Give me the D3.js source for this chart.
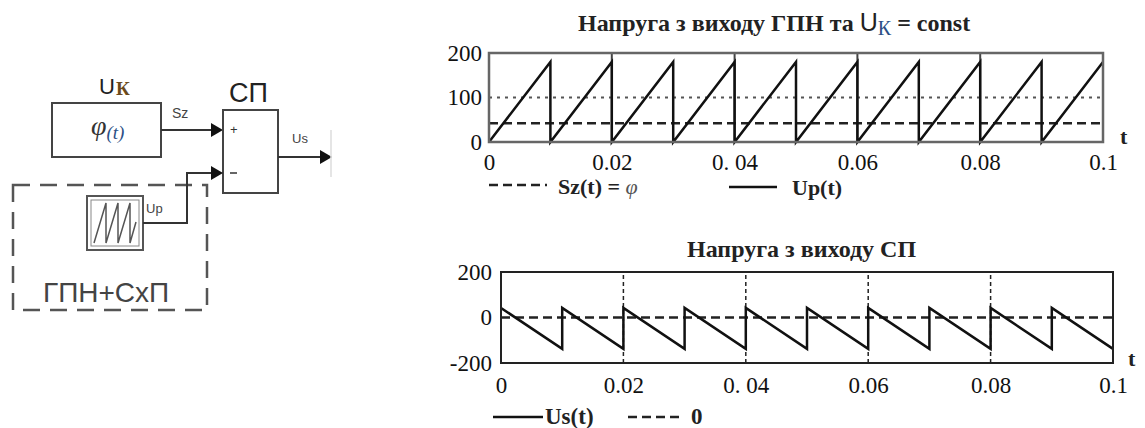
<!DOCTYPE html>
<html>
<head>
<meta charset="utf-8">
<script src="https://cdn.jsdelivr.net/npm/d3@7/dist/d3.min.js"></script>
<style>
  body { margin: 0; background: #fff; }
  svg { display: block; }
</style>
</head>
<body>
<svg id="chart" width="1145" height="428"></svg>
<script>
// --- data ---
const tTicks = [0, 0.02, 0.04, 0.06, 0.08, 0.1];
const tTickLabels = ["0", "0.02", "0. 04", "0.06", "0.08", "0.1"];
const gridT = [0.02, 0.04, 0.06, 0.08];
const topYTicks = [0, 100, 200];
const botYTicks = [-200, 0, 200];
const topDotted = 100;

// ramp generator output Up(t) (vertices)
const upT = [0, 0.01, 0.01, 0.02, 0.02, 0.03, 0.03, 0.04, 0.04, 0.05, 0.05, 0.06, 0.06, 0.07, 0.07, 0.08, 0.08, 0.09, 0.09, 0.1];
const upV = [0, 180, 0, 180, 0, 180, 0, 180, 0, 180, 0, 180, 0, 180, 0, 180, 0, 180, 0, 180];
// reference Sz(t) = phi
const szT = [0, 0.1];
const szV = [42, 42];
// comparator output Us(t) (vertices)
const usT = [0, 0.01, 0.01, 0.02, 0.02, 0.03, 0.03, 0.04, 0.04, 0.05, 0.05, 0.06, 0.06, 0.07, 0.07, 0.08, 0.08, 0.09, 0.09, 0.1];
const usV = [42, -138, 42, -138, 42, -138, 42, -138, 42, -138, 42, -138, 42, -138, 42, -138, 42, -138, 42, -138];
const zeroT = [0, 0.1];
const zeroV = [0, 0];

const SERIF = "Liberation Serif";
const SANS = "Liberation Sans";

const svg = d3.select("#chart");
const zip = (a, b) => a.map((d, i) => [d, b[i]]);

// ---------- top chart ----------
const xTop = d3.scaleLinear().domain([0, 0.1]).range([489, 1103]);
const yTop = d3.scaleLinear().domain([0, 200]).range([142, 53]);
const gTop = svg.append("g");

gTop.append("g").selectAll("line").data(gridT).join("line")
  .attr("x1", d => xTop(d)).attr("x2", d => xTop(d))
  .attr("y1", yTop(0)).attr("y2", yTop(200))
  .attr("stroke", "#444").attr("stroke-width", 2);

gTop.append("line")
  .attr("x1", xTop(0)).attr("x2", xTop(0.1))
  .attr("y1", yTop(topDotted)).attr("y2", yTop(topDotted))
  .attr("stroke", "#555").attr("stroke-width", 2).attr("stroke-dasharray", "3,5");

const lineTop = d3.line().x(d => xTop(d[0])).y(d => yTop(d[1]));
gTop.append("path").datum(zip(szT, szV)).attr("d", lineTop)
  .attr("fill", "none").attr("stroke", "#222").attr("stroke-width", 2.5).attr("stroke-dasharray", "9,5");
gTop.append("path").datum(zip(upT, upV)).attr("d", lineTop)
  .attr("fill", "none").attr("stroke", "#111").attr("stroke-width", 2.5);

gTop.append("rect")
  .attr("x", xTop(0)).attr("y", yTop(200))
  .attr("width", xTop(0.1) - xTop(0)).attr("height", yTop(0) - yTop(200))
  .attr("fill", "none").attr("stroke", "#666").attr("stroke-width", 2.5);

gTop.append("g").attr("transform", `translate(0,${yTop(0) + 25})`)
  .call(d3.axisBottom(xTop).tickValues(tTicks).tickSize(0).tickFormat((d, i) => tTickLabels[i]))
  .attr("font-family", SERIF).attr("font-size", 23)
  .call(g => g.select(".domain").remove())
  .selectAll("text").attr("fill", "#111").attr("dy", 0);

gTop.append("g").attr("transform", `translate(${xTop(0) - 4},0)`)
  .call(d3.axisLeft(yTop).tickValues(topYTicks).tickSize(0))
  .attr("font-family", SERIF).attr("font-size", 23)
  .call(g => g.select(".domain").remove())
  .selectAll("text").attr("fill", "#111");

svg.append("text").attr("font-family", SERIF).attr("x", 1120).attr("y", 144)
  .attr("font-size", 22).attr("font-weight", "bold").attr("fill", "#222").text("t");

const tt = svg.append("text").attr("x", 578).attr("y", 31).attr("fill", "#222").attr("font-family", SERIF);
tt.append("tspan").attr("font-size", 24).attr("font-weight", "bold").text("Напруга з виходу ГПН та ");
tt.append("tspan").attr("font-family", SANS).attr("font-size", 25).text("U");
tt.append("tspan").attr("font-size", 20).attr("dy", 4).attr("fill", "#2c4f86").text("К");
tt.append("tspan").attr("font-size", 24).attr("font-weight", "bold").attr("dy", -4).text(" = const");

// legend top
svg.append("line").attr("x1", 489).attr("x2", 547).attr("y1", 185).attr("y2", 185)
  .attr("stroke", "#222").attr("stroke-width", 2.5).attr("stroke-dasharray", "9,5");
svg.append("text").attr("font-family", SERIF).attr("x", 558).attr("y", 194)
  .attr("font-size", 22).attr("font-weight", "bold").attr("fill", "#222")
  .call(t => { t.append("tspan").text("Sz(t) = "); t.append("tspan").attr("font-style", "italic").attr("font-weight", "normal").attr("fill", "#555").text("φ"); });
svg.append("line").attr("x1", 729).attr("x2", 777).attr("y1", 187).attr("y2", 187)
  .attr("stroke", "#111").attr("stroke-width", 2.5);
svg.append("text").attr("font-family", SERIF).attr("x", 792).attr("y", 195)
  .attr("font-size", 22).attr("font-weight", "bold").attr("fill", "#222").text("Up(t)");

// ---------- bottom chart ----------
const xBot = d3.scaleLinear().domain([0, 0.1]).range([501, 1113]);
const yBot = d3.scaleLinear().domain([-200, 200]).range([363, 272]);
const gBot = svg.append("g");

gBot.append("g").selectAll("line").data(gridT).join("line")
  .attr("x1", d => xBot(d)).attr("x2", d => xBot(d))
  .attr("y1", yBot(-200)).attr("y2", yBot(200))
  .attr("stroke", "#222").attr("stroke-width", 1.5).attr("stroke-dasharray", "4,3");

const lineBot = d3.line().x(d => xBot(d[0])).y(d => yBot(d[1]));
gBot.append("path").datum(zip(zeroT, zeroV)).attr("d", lineBot)
  .attr("fill", "none").attr("stroke", "#222").attr("stroke-width", 2.5).attr("stroke-dasharray", "9,5");
gBot.append("path").datum(zip(usT, usV)).attr("d", lineBot)
  .attr("fill", "none").attr("stroke", "#111").attr("stroke-width", 2.5);

gBot.append("rect")
  .attr("x", xBot(0)).attr("y", yBot(200))
  .attr("width", xBot(0.1) - xBot(0)).attr("height", yBot(-200) - yBot(200))
  .attr("fill", "none").attr("stroke", "#222").attr("stroke-width", 2);

gBot.append("g").attr("transform", `translate(0,${yBot(-200) + 27})`)
  .call(d3.axisBottom(xBot).tickValues(tTicks).tickSize(0).tickFormat((d, i) => tTickLabels[i]))
  .attr("font-family", SERIF).attr("font-size", 23)
  .call(g => g.select(".domain").remove())
  .selectAll("text").attr("fill", "#111").attr("dy", 0);

gBot.append("g").attr("transform", `translate(${xBot(0) - 6},0)`)
  .call(d3.axisLeft(yBot).tickValues(botYTicks).tickSize(0).tickFormat(d => d < 0 ? "-" + Math.abs(d) : d))
  .attr("font-family", SERIF).attr("font-size", 23)
  .call(g => g.select(".domain").remove())
  .selectAll("text").attr("fill", "#111");

svg.append("text").attr("font-family", SERIF).attr("x", 1128).attr("y", 366)
  .attr("font-size", 22).attr("font-weight", "bold").attr("fill", "#222").text("t");

svg.append("text").attr("font-family", SERIF).attr("x", 687).attr("y", 257)
  .attr("font-size", 24).attr("font-weight", "bold").attr("fill", "#222").text("Напруга з виходу СП");

// legend bottom
svg.append("line").attr("x1", 493).attr("x2", 543).attr("y1", 417).attr("y2", 417)
  .attr("stroke", "#111").attr("stroke-width", 2.5);
svg.append("text").attr("font-family", SERIF).attr("x", 545).attr("y", 424)
  .attr("font-size", 23).attr("font-weight", "bold").attr("fill", "#222").text("Us(t)");
svg.append("line").attr("x1", 628).attr("x2", 683).attr("y1", 417).attr("y2", 417)
  .attr("stroke", "#222").attr("stroke-width", 2.5).attr("stroke-dasharray", "9,5");
svg.append("text").attr("font-family", SERIF).attr("x", 691).attr("y", 424)
  .attr("font-size", 23).attr("font-weight", "bold").attr("fill", "#222").text("0");

// ---------- block diagram ----------
const dg = svg.append("g").attr("stroke-linecap", "butt");
const arrow = (x, y) => dg.append("path")
  .attr("d", `M${x},${y} L${x - 12},${y - 7} L${x - 12},${y + 7} Z`).attr("fill", "#111");

// U_K label
dg.append("text").attr("font-family", SANS).attr("x", 99).attr("y", 94).attr("font-size", 22).attr("fill", "#222").text("U");
dg.append("text").attr("font-family", SERIF).attr("x", 116).attr("y", 95).attr("font-size", 19).attr("font-weight", "bold").attr("fill", "#6b4a1c").text("К");

// phi block
dg.append("rect").attr("x", 52).attr("y", 103).attr("width", 109).attr("height", 54)
  .attr("fill", "none").attr("stroke", "#444").attr("stroke-width", 2);
dg.append("text").attr("font-family", SERIF).attr("x", 91).attr("y", 135).attr("font-size", 28).attr("font-style", "italic").attr("fill", "#333")
  .call(t => { t.append("tspan").text("φ"); t.append("tspan").attr("font-size", 19).attr("dy", 4).attr("fill", "#2c4f86").text("(t)"); });
dg.append("line").attr("x1", 161).attr("x2", 212).attr("y1", 130).attr("y2", 130).attr("stroke", "#333").attr("stroke-width", 2);
arrow(223, 130);
dg.append("text").attr("font-family", SANS).attr("x", 172).attr("y", 118).attr("font-size", 14).attr("fill", "#444").text("Sz");

// comparator
dg.append("text").attr("font-family", SANS).attr("x", 229).attr("y", 102).attr("font-size", 27).attr("fill", "#222").text("СП");
dg.append("rect").attr("x", 223).attr("y", 110).attr("width", 55).attr("height", 83)
  .attr("fill", "none").attr("stroke", "#444").attr("stroke-width", 2);
dg.append("text").attr("font-family", SANS).attr("x", 230).attr("y", 134).attr("font-size", 13).attr("fill", "#333").text("+");
dg.append("line").attr("x1", 230).attr("x2", 237).attr("y1", 173).attr("y2", 173).attr("stroke", "#333").attr("stroke-width", 1.5);
dg.append("line").attr("x1", 278).attr("x2", 320).attr("y1", 157).attr("y2", 157).attr("stroke", "#333").attr("stroke-width", 2);
arrow(332, 157);
dg.append("text").attr("font-family", SANS).attr("x", 292).attr("y", 143).attr("font-size", 13).attr("fill", "#444").text("Us");
dg.append("line").attr("x1", 331).attr("x2", 331).attr("y1", 130).attr("y2", 177).attr("stroke", "#ddd").attr("stroke-width", 1.5);

// dashed group box
dg.append("rect").attr("x", 13).attr("y", 185).attr("width", 194).attr("height", 125)
  .attr("fill", "none").attr("stroke", "#555").attr("stroke-width", 2.5).attr("stroke-dasharray", "17,10");
dg.append("text").attr("font-family", SANS).attr("x", 43).attr("y", 302).attr("font-size", 28).attr("fill", "#444").text("ГПН+СхП");

// ramp block
dg.append("rect").attr("x", 87).attr("y", 196).attr("width", 56).attr("height", 54)
  .attr("fill", "none").attr("stroke", "#555").attr("stroke-width", 2);
dg.append("rect").attr("x", 91).attr("y", 200).attr("width", 48).attr("height", 46)
  .attr("fill", "none").attr("stroke", "#888").attr("stroke-width", 1);
dg.append("path").attr("d", "M94,243 L106,203 L106,243 L118,203 L118,243 L130,203 L130,243 L136,222")
  .attr("fill", "none").attr("stroke", "#555").attr("stroke-width", 1.5);
dg.append("text").attr("font-family", SANS).attr("x", 146).attr("y", 213).attr("font-size", 13).attr("fill", "#444").text("Up");
dg.append("path").attr("d", "M143,223 L187,223 L187,173 L212,173")
  .attr("fill", "none").attr("stroke", "#333").attr("stroke-width", 2);
arrow(223, 173);
</script>
</body>
</html>
